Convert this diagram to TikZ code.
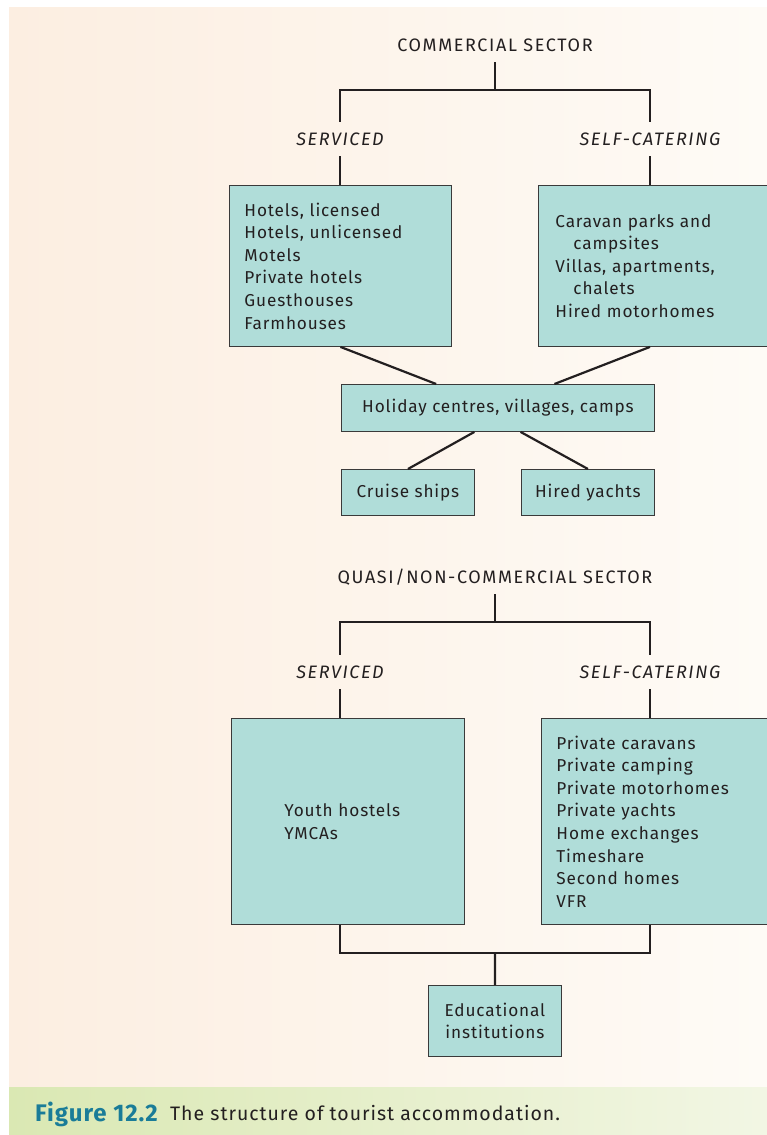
\documentclass[tikz,border=0pt]{standalone}
\usepackage{fontspec}
\setmainfont{Fira Sans}[LetterSpace=5]
\usetikzlibrary{calc}
\definecolor{inkdark}{HTML}{231F20}
\definecolor{boxfill}{HTML}{B0DDD9}
\definecolor{boxedge}{HTML}{3A3A3A}
\definecolor{peachL}{HTML}{FCEEE1}
\definecolor{peachR}{HTML}{FEFBF6}
\definecolor{capL}{HTML}{DAE8B3}
\definecolor{capR}{HTML}{F2F6E4}
\definecolor{figteal}{HTML}{1A7C98}
\tikzset{
  sector/.style={text=inkdark, font=\fontsize{18}{21}\selectfont\addfontfeatures{LetterSpace=9},
    text height=12pt, text depth=0pt, inner xsep=2pt, inner ysep=11pt},
  branch/.style={sector, font=\fontsize{18}{21}\selectfont\itshape\addfontfeatures{LetterSpace=9}},
  itembox/.style={draw=boxedge, line width=0.9pt, fill=boxfill, text=inkdark,
    font=\fontsize{17.2}{22.6}\selectfont, rectangle, anchor=north west},
  listbox/.style={itembox, align=left},
  link/.style={draw=inkdark, line width=2.2pt},
}
\newcommand{\ind}{\hspace*{18pt}}
\begin{document}
\begin{tikzpicture}[x=1pt,y=-1pt]
\useasboundingbox (0,0) rectangle (767,1135);
% background panel and caption band
\shade[left color=peachL, right color=peachR] (9,7) rectangle (767,1087);
\shade[left color=capL, right color=capR] (9,1087) rectangle (767,1135);

% ---------- commercial sector ----------
\node[sector] (comm) at (495,45) {COMMERCIAL SECTOR};
\node[branch] (serv1) at (340,139) {SERVICED};
\node[branch] (self1) at (650,139) {SELF-CATERING};
\coordinate (j1) at (495,90);

\node[listbox, minimum width=222pt, minimum height=161pt, inner xsep=15pt,
  text width=192pt] (hotels) at (229,185)
  {Hotels, licensed\\Hotels, unlicensed\\Motels\\Private hotels\\Guesthouses\\Farmhouses};
\node[listbox, minimum width=232pt, minimum height=161pt, inner xsep=17pt,
  text width=198pt] (caravan) at (538,185)
  {Caravan parks and\\\ind campsites\\Villas, apartments,\\\ind chalets\\Hired motorhomes};

\node[itembox, minimum width=313pt, minimum height=47pt] (holiday) at (341,384)
  {Holiday centres, villages, camps};
\node[itembox, minimum width=133pt, minimum height=46pt] (cruise) at (341,469)
  {Cruise ships};
\node[itembox, minimum width=133pt, minimum height=46pt] (yachts) at (521,469)
  {Hired yachts};

\draw[link] (comm.south) -- (j1);
\draw[link] (serv1.north) |- (j1) -| (self1.north);
\draw[link] (serv1.south) -- (serv1.south |- hotels.north);
\draw[link] (self1.south) -- (self1.south |- caravan.north);
\draw[link] (hotels.south) -- ($(holiday.north west)!0.303!(holiday.north east)$);
\draw[link] (self1.south |- caravan.south) -- ($(holiday.north west)!0.68!(holiday.north east)$);
\draw[link] ($(holiday.south west)!0.425!(holiday.south east)$) -- (cruise.north);
\draw[link] ($(holiday.south west)!0.572!(holiday.south east)$) -- (yachts.north);

% ---------- quasi / non-commercial sector ----------
\node[sector] (quasi) at (495,577) {QUASI/NON-COMMERCIAL SECTOR};
\node[branch] (serv2) at (340,672) {SERVICED};
\node[branch] (self2) at (650,672) {SELF-CATERING};
\coordinate (j2) at (495,622);
\coordinate (j3) at (495,953);

\node[listbox, minimum width=233pt, minimum height=206pt, inner xsep=53pt,
  text width=127pt] (youth) at (231,718)
  {Youth hostels\\YMCAs};
\node[listbox, minimum width=229pt, minimum height=206pt, inner xsep=15pt,
  text width=199pt] (private) at (541,718)
  {Private caravans\\Private camping\\Private motorhomes\\Private yachts\\Home exchanges\\Timeshare\\Second homes\\VFR};
\node[itembox, align=center, minimum width=133pt, minimum height=71pt] (edu) at (428,985)
  {Educational\\institutions};

\draw[link] (quasi.south) -- (j2);
\draw[link] (serv2.north) |- (j2) -| (self2.north);
\draw[link] (serv2.south) -- (serv2.south |- youth.north);
\draw[link] (self2.south) -- (self2.south |- private.north);
\draw[link] (serv2.south |- youth.south) |- (j3) -| (self2.south |- private.south);
\draw[link] (j3) -- (edu.north);

% ---------- caption ----------
\node[anchor=base west, inner sep=0pt, font=\fontsize{24}{27}\selectfont\bfseries\addfontfeatures{LetterSpace=4},
  text=figteal] (fig) at (35,1121) {Figure 12.2};
\node[anchor=base west, inner sep=0pt, font=\fontsize{19.5}{22}\selectfont,
  text=inkdark] (captext) at (170,1120) {The structure of tourist accommodation.};
\end{tikzpicture}
\end{document}
